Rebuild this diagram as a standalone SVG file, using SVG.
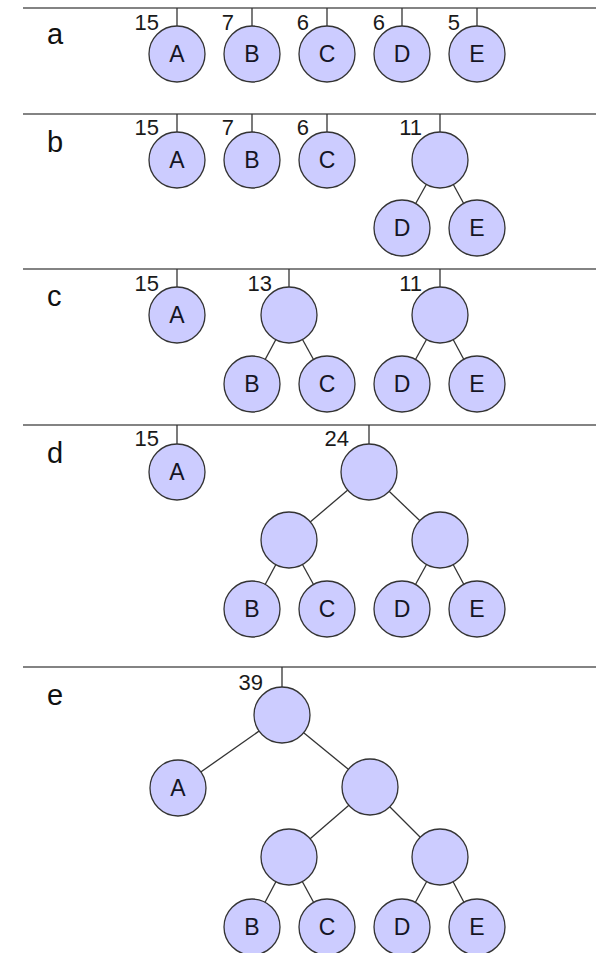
<svg xmlns="http://www.w3.org/2000/svg" width="596" height="953" viewBox="0 0 596 953">
<style>
.sep{stroke:#5a5a5a;stroke-width:1.6}
.edge{stroke:#333;stroke-width:1.3;fill:none}
.node circle{fill:#ccccff;stroke:#333;stroke-width:1.3}
.lbl{font-family:"Liberation Sans",Arial,sans-serif;font-size:23px;fill:#151525;text-anchor:middle}
.num{font-family:"Liberation Sans",Arial,sans-serif;font-size:22px;fill:#1a1a1a;text-anchor:end}
.sec{font-family:"Liberation Sans",Arial,sans-serif;font-size:29px;fill:#111}
</style>
<rect width="596" height="953" fill="#fff"/>
<g id="separators">
<line class="sep" x1="23" y1="8" x2="596" y2="8"/>
<line class="sep" x1="23" y1="114" x2="596" y2="114"/>
<line class="sep" x1="23" y1="269" x2="596" y2="269"/>
<line class="sep" x1="23" y1="425" x2="596" y2="425"/>
<line class="sep" x1="23" y1="667" x2="596" y2="667"/>
</g>
<g id="section-labels">
<text class="sec" x="47" y="44">a</text>
<text class="sec" x="47" y="152">b</text>
<text class="sec" x="47" y="306">c</text>
<text class="sec" x="47" y="463">d</text>
<text class="sec" x="47" y="705">e</text>
</g>
<g id="connectors">
<line class="edge" x1="177" y1="8" x2="177" y2="26"/>
<line class="edge" x1="252" y1="8" x2="252" y2="26"/>
<line class="edge" x1="327" y1="8" x2="327" y2="26"/>
<line class="edge" x1="402" y1="8" x2="402" y2="26"/>
<line class="edge" x1="477" y1="8" x2="477" y2="26"/>
<line class="edge" x1="177" y1="114" x2="177" y2="132"/>
<line class="edge" x1="252" y1="114" x2="252" y2="132"/>
<line class="edge" x1="327" y1="114" x2="327" y2="132"/>
<line class="edge" x1="440" y1="114" x2="440" y2="132"/>
<line class="edge" x1="440" y1="160" x2="402" y2="228"/>
<line class="edge" x1="440" y1="160" x2="477" y2="228"/>
<line class="edge" x1="177" y1="269" x2="177" y2="287"/>
<line class="edge" x1="289" y1="269" x2="289" y2="287"/>
<line class="edge" x1="440" y1="269" x2="440" y2="287"/>
<line class="edge" x1="289" y1="315" x2="252" y2="384"/>
<line class="edge" x1="289" y1="315" x2="327" y2="384"/>
<line class="edge" x1="440" y1="315" x2="402" y2="384"/>
<line class="edge" x1="440" y1="315" x2="477" y2="384"/>
<line class="edge" x1="177" y1="425" x2="177" y2="444"/>
<line class="edge" x1="369" y1="425" x2="369" y2="444"/>
<line class="edge" x1="369" y1="472" x2="289" y2="540"/>
<line class="edge" x1="369" y1="472" x2="440" y2="540"/>
<line class="edge" x1="289" y1="540" x2="252" y2="609"/>
<line class="edge" x1="289" y1="540" x2="327" y2="609"/>
<line class="edge" x1="440" y1="540" x2="402" y2="609"/>
<line class="edge" x1="440" y1="540" x2="477" y2="609"/>
<line class="edge" x1="282" y1="667" x2="282" y2="687"/>
<line class="edge" x1="282" y1="715" x2="178" y2="788"/>
<line class="edge" x1="282" y1="715" x2="370" y2="787"/>
<line class="edge" x1="370" y1="787" x2="289" y2="857"/>
<line class="edge" x1="370" y1="787" x2="440" y2="857"/>
<line class="edge" x1="289" y1="857" x2="252" y2="927"/>
<line class="edge" x1="289" y1="857" x2="327" y2="927"/>
<line class="edge" x1="440" y1="857" x2="402" y2="927"/>
<line class="edge" x1="440" y1="857" x2="477" y2="927"/>
</g>
<g id="weights">
<text class="num" x="159" y="30">15</text>
<text class="num" x="234" y="30">7</text>
<text class="num" x="309" y="30">6</text>
<text class="num" x="385" y="30">6</text>
<text class="num" x="460" y="30">5</text>
<text class="num" x="159" y="135">15</text>
<text class="num" x="234" y="135">7</text>
<text class="num" x="309" y="135">6</text>
<text class="num" x="422" y="135">11</text>
<text class="num" x="159" y="291">15</text>
<text class="num" x="272" y="291">13</text>
<text class="num" x="422" y="291">11</text>
<text class="num" x="159" y="446">15</text>
<text class="num" x="349" y="446">24</text>
<text class="num" x="263" y="690">39</text>
</g>
<g id="a-A" class="node"><circle cx="177" cy="54" r="28"/><text class="lbl" x="177" y="62">A</text></g>
<g id="a-B" class="node"><circle cx="252" cy="54" r="28"/><text class="lbl" x="252" y="62">B</text></g>
<g id="a-C" class="node"><circle cx="327" cy="54" r="28"/><text class="lbl" x="327" y="62">C</text></g>
<g id="a-D" class="node"><circle cx="402" cy="54" r="28"/><text class="lbl" x="402" y="62">D</text></g>
<g id="a-E" class="node"><circle cx="477" cy="54" r="28"/><text class="lbl" x="477" y="62">E</text></g>
<g id="b-A" class="node"><circle cx="177" cy="160" r="28"/><text class="lbl" x="177" y="168">A</text></g>
<g id="b-B" class="node"><circle cx="252" cy="160" r="28"/><text class="lbl" x="252" y="168">B</text></g>
<g id="b-C" class="node"><circle cx="327" cy="160" r="28"/><text class="lbl" x="327" y="168">C</text></g>
<g id="b-DE" class="node"><circle cx="440" cy="160" r="28"/></g>
<g id="b-D" class="node"><circle cx="402" cy="228" r="28"/><text class="lbl" x="402" y="236">D</text></g>
<g id="b-E" class="node"><circle cx="477" cy="228" r="28"/><text class="lbl" x="477" y="236">E</text></g>
<g id="c-A" class="node"><circle cx="177" cy="315" r="28"/><text class="lbl" x="177" y="323">A</text></g>
<g id="c-BC" class="node"><circle cx="289" cy="315" r="28"/></g>
<g id="c-DE" class="node"><circle cx="440" cy="315" r="28"/></g>
<g id="c-B" class="node"><circle cx="252" cy="384" r="28"/><text class="lbl" x="252" y="392">B</text></g>
<g id="c-C" class="node"><circle cx="327" cy="384" r="28"/><text class="lbl" x="327" y="392">C</text></g>
<g id="c-D" class="node"><circle cx="402" cy="384" r="28"/><text class="lbl" x="402" y="392">D</text></g>
<g id="c-E" class="node"><circle cx="477" cy="384" r="28"/><text class="lbl" x="477" y="392">E</text></g>
<g id="d-A" class="node"><circle cx="177" cy="472" r="28"/><text class="lbl" x="177" y="480">A</text></g>
<g id="d-BCDE" class="node"><circle cx="369" cy="472" r="28"/></g>
<g id="d-BC" class="node"><circle cx="289" cy="540" r="28"/></g>
<g id="d-DE" class="node"><circle cx="440" cy="540" r="28"/></g>
<g id="d-B" class="node"><circle cx="252" cy="609" r="28"/><text class="lbl" x="252" y="617">B</text></g>
<g id="d-C" class="node"><circle cx="327" cy="609" r="28"/><text class="lbl" x="327" y="617">C</text></g>
<g id="d-D" class="node"><circle cx="402" cy="609" r="28"/><text class="lbl" x="402" y="617">D</text></g>
<g id="d-E" class="node"><circle cx="477" cy="609" r="28"/><text class="lbl" x="477" y="617">E</text></g>
<g id="e-root" class="node"><circle cx="282" cy="715" r="28"/></g>
<g id="e-A" class="node"><circle cx="178" cy="788" r="28"/><text class="lbl" x="178" y="796">A</text></g>
<g id="e-BCDE" class="node"><circle cx="370" cy="787" r="28"/></g>
<g id="e-BC" class="node"><circle cx="289" cy="857" r="28"/></g>
<g id="e-DE" class="node"><circle cx="440" cy="857" r="28"/></g>
<g id="e-B" class="node"><circle cx="252" cy="927" r="28"/><text class="lbl" x="252" y="935">B</text></g>
<g id="e-C" class="node"><circle cx="327" cy="927" r="28"/><text class="lbl" x="327" y="935">C</text></g>
<g id="e-D" class="node"><circle cx="402" cy="927" r="28"/><text class="lbl" x="402" y="935">D</text></g>
<g id="e-E" class="node"><circle cx="477" cy="927" r="28"/><text class="lbl" x="477" y="935">E</text></g>
</svg>
